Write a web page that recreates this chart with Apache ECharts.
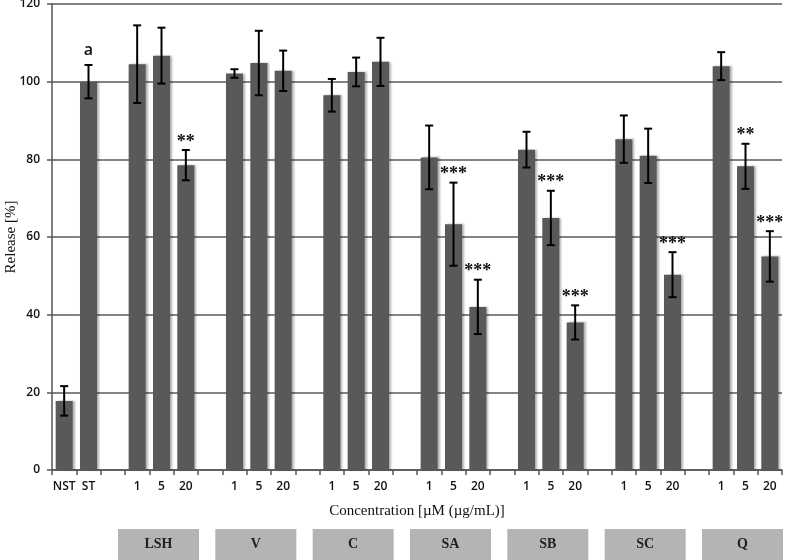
<!DOCTYPE html>
<html>
<head>
<meta charset="utf-8">
<script src="https://cdn.jsdelivr.net/npm/echarts@6/dist/echarts.min.js"></script>
<style>html,body{margin:0;padding:0;background:#fff}#c{width:787px;height:560px}</style>
</head>
<body>
<div id="c"></div>
<script>
// Tick labels of the category axis (blank = spacer between groups)
const tickLabels = ['NST','ST','','1','5','20','','1','5','20','','1','5','20','','1','5','20','','1','5','20','','1','5','20','','1','5','20'];
// Mean release values [%]
const releaseValues = [17.8,100,null,104.5,106.7,78.5,null,102.1,104.8,102.8,null,96.5,102.5,105.1,null,80.5,63.3,42.0,null,82.5,64.9,38.0,null,85.2,80.9,50.3,null,104.0,78.2,55.0];
// Error (±) values
const errorValues = [3.8,4.3,null,10.0,7.2,3.9,null,1.1,8.3,5.2,null,4.2,3.7,6.2,null,8.2,10.7,7.0,null,4.6,7.0,4.4,null,6.1,7.0,5.8,null,3.6,5.8,6.5];
// Significance annotations
const annotations = ['','a','','','','**','','','','','','','','','','','***','***','','','***','***','','','','***','','','**','***'];
// Compound groups and the index of the middle tick of each group
const groupNames = ['LSH','V','C','SA','SB','SC','Q'];
const groupCenters = [4,8,12,16,20,24,28];

const chart = echarts.init(document.getElementById('c'), null, {renderer:'canvas'});

const errData = releaseValues.map((v,i)=> v==null ? null : [i, v, errorValues[i]]).filter(d=>d);
const barData = releaseValues.map(v=> v==null ? '-' : v);

const option = {
  animation:false,
  grid:{left:52, right:5, top:4, bottom:90, containLabel:false, outerBoundsMode:'none'},
  xAxis:{
    type:'category',
    data:tickLabels,
    name:'Concentration [µM (µg/mL)]',
    nameLocation:'middle',
    nameGap:34,
    nameTextStyle:{fontFamily:'Liberation Serif', fontSize:15, color:'#111'},
    axisLine:{lineStyle:{color:'#555', width:1.5}},
    axisTick:{show:true, alignWithLabel:false, length:5, lineStyle:{color:'#555', width:1.5}},
    axisLabel:{interval:0, margin:11, fontFamily:'Open Sans', fontWeight:600, fontSize:12, color:'#111'}
  },
  yAxis:{
    type:'value',
    min:0, max:120, interval:20,
    name:'Release [%]',
    nameLocation:'middle',
    nameGap:33,
    nameMoveOverlap:false,
    nameTextStyle:{fontFamily:'Liberation Serif', fontSize:15, color:'#111'},
    axisLine:{show:true, lineStyle:{color:'#555', width:1.5}},
    axisTick:{show:true, length:5, lineStyle:{color:'#555', width:1.5}},
    axisLabel:{margin:12, fontFamily:'Open Sans', fontWeight:600, fontSize:12, color:'#111'},
    splitLine:{show:true, lineStyle:{color:'#5a5a5a', width:1.5}}
  },
  series:[
    {
      type:'bar',
      data:barData,
      barWidth:'70%',
      itemStyle:{color:'#595959', shadowColor:'rgba(0,0,0,0.3)', shadowBlur:2, shadowOffsetX:2},
      z:2
    },
    {
      type:'custom',
      data:errData,
      z:5,
      clip:false,
      renderItem:function(params, api){
        const x = api.value(0), v = api.value(1), e = api.value(2);
        const top = api.coord([x, v+e]);
        const bot = api.coord([x, v-e]);
        const hw = 4;
        const st = {stroke:'#000', lineWidth:2};
        const ann = annotations[x];
        const children = [
          {type:'line', shape:{x1:top[0], y1:top[1], x2:bot[0], y2:bot[1]}, style:st},
          {type:'line', shape:{x1:top[0]-hw, y1:top[1], x2:top[0]+hw, y2:top[1]}, style:st},
          {type:'line', shape:{x1:bot[0]-hw, y1:bot[1], x2:bot[0]+hw, y2:bot[1]}, style:st}
        ];
        if (ann) {
          const isA = ann === 'a';
          children.push({type:'text', style:{
            text:ann, x:top[0], y: isA ? top[1]-15 : top[1]-8,
            align:'center', verticalAlign:'middle',
            font: isA ? '600 16px "Open Sans"' : 'bold 18px "Liberation Serif"',
            fill:'#111'
          }});
        }
        return {type:'group', children:children};
      }
    },
    {
      type:'custom',
      data:groupCenters.map(c=>[c,0]),
      clip:false,
      z:5,
      renderItem:function(params, api){
        const p = api.coord([api.value(0), 0]);
        const w = 81, h = 31;
        const cx = p[0] - 3;
        return {type:'group', children:[
          {type:'rect', shape:{x:cx - w/2, y:p[1]+59, width:w, height:h}, style:{fill:'#b4b4b4'}},
          {type:'text', style:{text:groupNames[params.dataIndex], x:cx, y:p[1]+59+h/2,
            align:'center', verticalAlign:'middle', font:'bold 14px "Liberation Serif"', fill:'#222'}}
        ]};
      }
    }
  ]
};
chart.setOption(option);
</script>
</body>
</html>
